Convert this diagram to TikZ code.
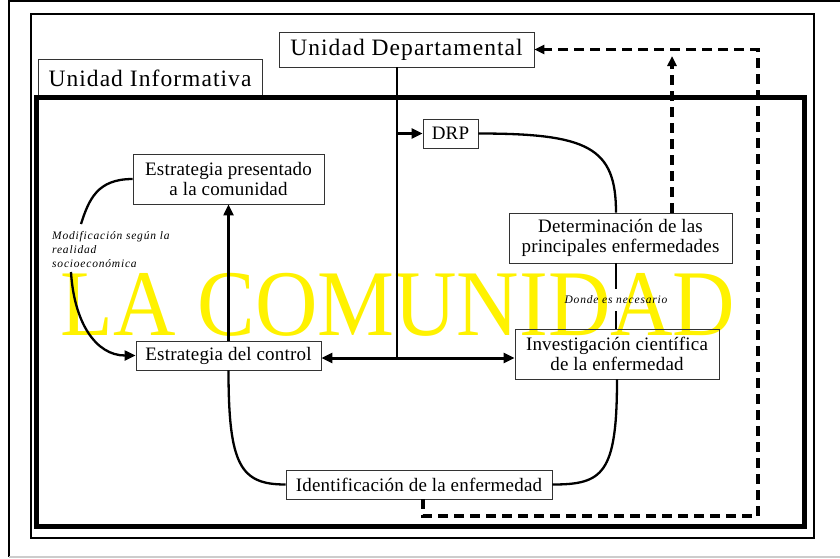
\documentclass[tikz,border=0pt]{standalone}
\usepackage{fontspec}
\setmainfont{Liberation Serif}
\newfontfamily\boxfont[LetterSpace=1]{Liberation Serif}
\newfontfamily\bigfont[LetterSpace=4.5]{Liberation Serif}
\newfontfamily\notefont[LetterSpace=7]{Liberation Serif}
\usetikzlibrary{arrows.meta}

\begin{document}
\begin{tikzpicture}[x=1pt, y=-1pt,
	box/.style={draw=black!80, line width=0.9pt, inner sep=0pt, align=center, font=\boxfont\fontsize{19}{20.5}\selectfont},
	bigbox/.style={box, font=\bigfont\fontsize{23.5}{26}\selectfont},
	note/.style={inner sep=0pt, font=\notefont\itshape\fontsize{11.5}{14}\selectfont},
	link/.style={line width=2.3pt},
	tip/.style={-{Triangle[length=11pt,width=10pt]}},
	tips/.style={{Triangle[length=11pt,width=10pt]}-{Triangle[length=11pt,width=10pt]}},
	back/.style={line width=3.2pt, dash pattern=on 10pt off 6pt, -{Triangle[length=10pt,width=9pt]}}]
	\useasboundingbox (0,0) rectangle (840,558);
	\draw [line width=1.5pt] (840,1) -- (9,1) -- (9,557);
	\draw [black!20, line width=1.5pt] (9,557) -- (840,557);
	\draw [line width=2pt] (31,13.7) rectangle (814.3,538);

	\node [text=yellow, anchor=base, xscale=0.92, font=\fontsize{94}{94}\selectfont] (title) at (398,335) {LA COMUNIDAD};

	\node [bigbox, minimum width=224pt, minimum height=38pt] (uinf) at (150,78) {Unidad Informativa};
	\draw [line width=5pt] (36.5,97.5) rectangle (804,526);

	\node [bigbox, minimum width=255pt, minimum height=35pt] (udep) at (406.5,49.5) {Unidad Departamental};
	\node [box, minimum width=191pt, minimum height=50pt] (estpres) at (228.5,179) {Estrategia presentado\\a la comunidad};
	\node [box, minimum width=55pt, minimum height=29pt] (drp) at (450.5,133.5) {DRP};
	\node [box, minimum width=223pt, minimum height=50pt] (determ) at (620.5,238) {Determinación de las\\principales enfermedades};
	\node [box, minimum width=185pt, minimum height=29pt] (estctrl) at (228.5,355.5) {Estrategia del control};
	\node [box, minimum width=204pt, minimum height=50pt] (invest) at (617,354) {Investigación científica\\de la enfermedad};
	\node [box, minimum width=266pt, minimum height=29pt] (ident) at (419,484.5) {Identificación de la enfermedad};
	\node [note, anchor=north west, align=left] (modif) at (52,231) {Modificación según la\\realidad\\socioeconómica};
	\node [note, inner sep=7pt] (donde) at (616,300) {Donde es necesario};

	\coordinate (jct) at (397,358);
	\draw [link] (udep.south -| jct) -- (jct);
	\draw [link, line width=2.8pt, tip] (jct |- drp.west) -- (drp.west);
	\draw [link, line width=3pt, tips] (estctrl.east |- jct) -- (invest.west |- jct);
	\draw [link, tip] (estctrl.north) -- (estpres.south);

	\coordinate (modtop) at (81,224);
	\coordinate (modbot) at (71,272);
	\draw [link] (estpres.west) .. controls +(-35,0) and +(8,-25) .. (modtop);
	\draw [link, tip] (modbot) .. controls +(3,50) and +(-40,0) .. (estctrl.west);

	\draw [link] (drp.east) .. controls +(110,0) and +(0,-65) .. (donde.north |- determ.north);
	\draw [link] (donde.north |- determ.south) -- (donde.north);
	\draw [link] (donde.south) -- (donde.south |- invest.north);
	\draw [link] (estctrl.south) .. controls +(0,95) and +(-45,0) .. (ident.west);
	\draw [link] (invest.south) .. controls +(0,95) and +(50,0) .. (ident.east);

	\coordinate (bl) at (423,516);
	\coordinate (br) at (758,516);
	\coordinate (up) at (672,56);
	\draw [back] (ident.south -| bl) -- (bl) -- (br) -- (br |- udep.east) -- (udep.east);
	\draw [back] (determ.north -| up) -- (up);
\end{tikzpicture}
\end{document}
